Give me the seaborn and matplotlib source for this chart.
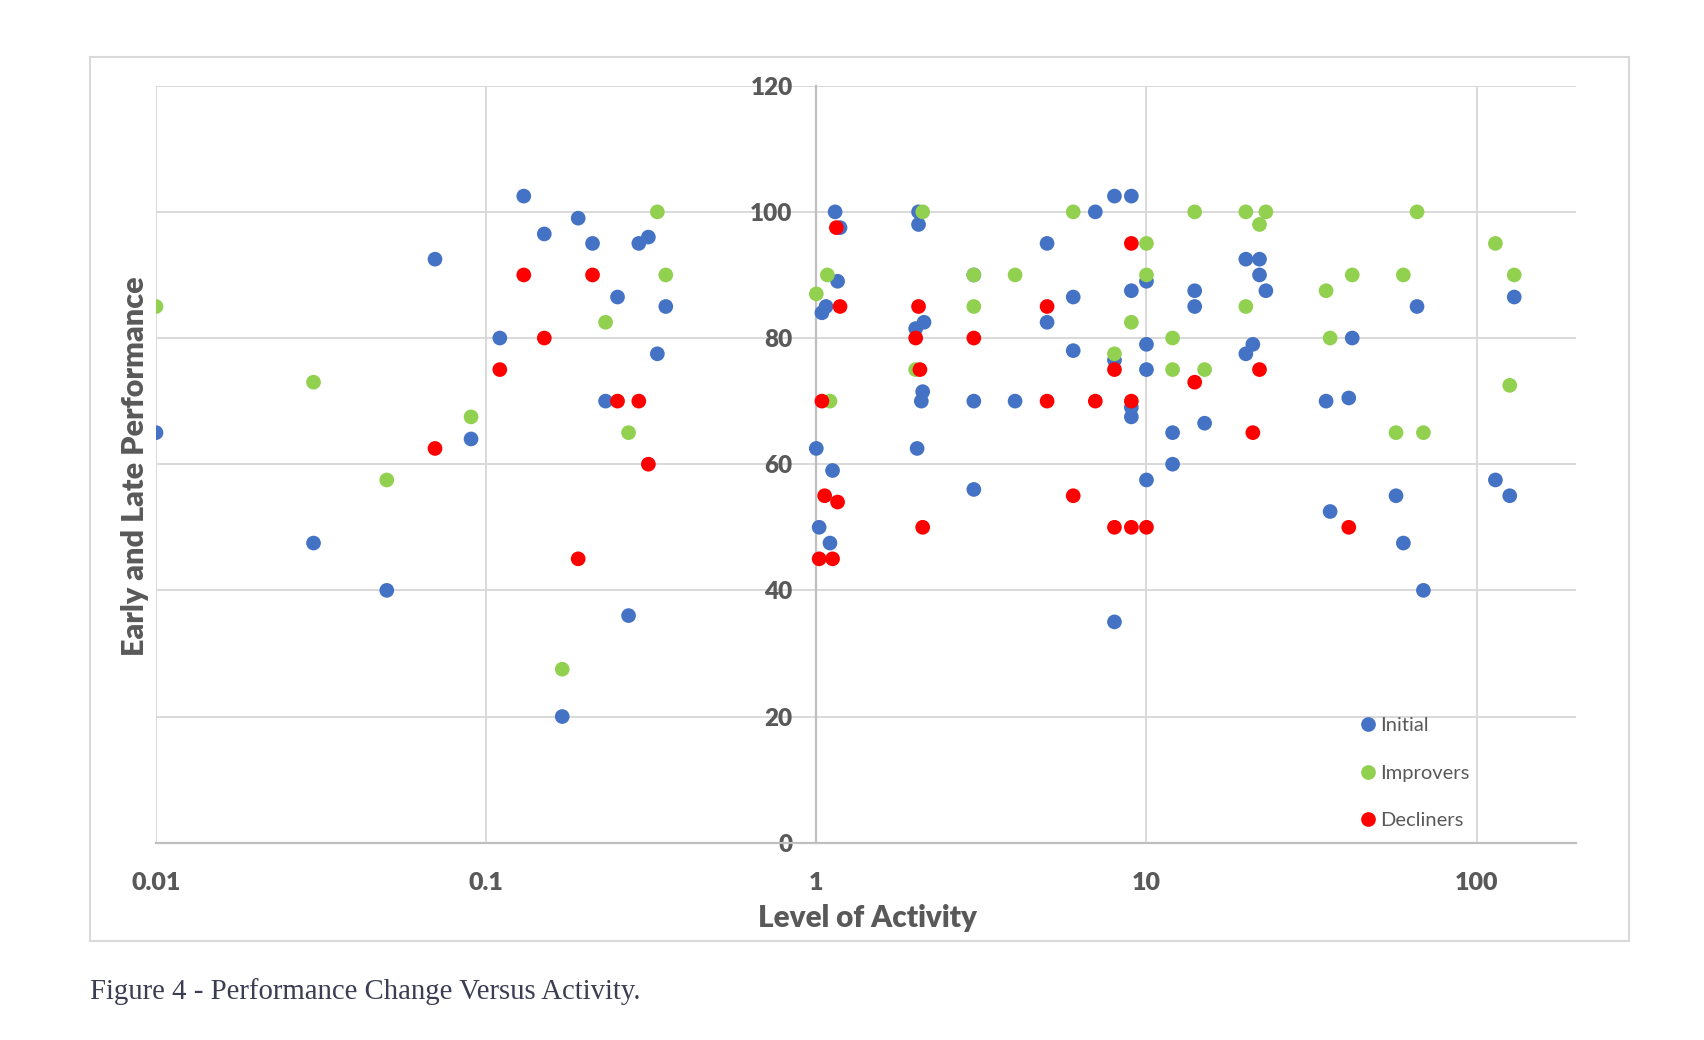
import numpy as np
import pandas as pd
import matplotlib
matplotlib.use("Agg")
import matplotlib.pyplot as plt
from matplotlib.patches import Rectangle
from matplotlib.ticker import FixedLocator, NullLocator, FixedFormatter
import seaborn as sns

sns.set_theme(style="white")
plt.rcParams["font.family"] = ["Lato", "DejaVu Sans"]

# --- data ---
initial_x = [0.01, 0.03, 0.05, 0.07, 0.09, 0.11, 0.13, 0.15, 0.17, 0.19, 0.21, 0.23,
             0.25, 0.27, 0.29, 0.31, 0.33, 0.35,
             1.0, 1.02, 1.04, 1.07, 1.1, 1.12, 1.14, 1.16, 1.18,
             2.0, 2.02, 2.04, 2.04, 2.08, 2.1, 2.12,
             3.0, 3.0, 3.0, 4.0, 5.0, 5.0, 6.0, 6.0, 7.0,
             8.0, 8.0, 8.0, 9.0, 9.0, 9.0, 9.0,
             10, 10, 10, 10, 12, 12, 14, 14, 15,
             20, 20, 21, 22, 22, 23,
             35, 36, 41, 42, 57, 60, 66, 69, 114, 126, 130]
initial_y = [65, 47.5, 40, 92.5, 64, 80, 102.5, 96.5, 20, 99, 95, 70,
             86.5, 36, 95, 96, 77.5, 85,
             62.5, 50, 84, 85, 47.5, 59, 100, 89, 97.5,
             81.5, 62.5, 100, 98, 70, 71.5, 82.5,
             90, 70, 56, 70, 95, 82.5, 86.5, 78, 100,
             102.5, 76.5, 35, 102.5, 87.5, 69, 67.5,
             89, 79, 75, 57.5, 65, 60, 87.5, 85, 66.5,
             92.5, 77.5, 79, 92.5, 90, 87.5,
             70, 52.5, 70.5, 80, 55, 47.5, 85, 40, 57.5, 55, 86.5]

improvers_x = [0.01, 0.03, 0.05, 0.09, 0.17, 0.23, 0.27, 0.33, 0.35,
               1.0, 1.08, 1.1, 2.0, 2.1, 3.0, 3.0, 4.0, 6.0, 8.0, 9.0,
               10, 10, 12, 12, 14, 15, 20, 20, 22, 23,
               35, 36, 42, 57, 60, 66, 69, 114, 126, 130]
improvers_y = [85, 73, 57.5, 67.5, 27.5, 82.5, 65, 100, 90,
               87, 90, 70, 75, 100, 90, 85, 90, 100, 77.5, 82.5,
               95, 90, 80, 75, 100, 75, 100, 85, 98, 100,
               87.5, 80, 90, 65, 90, 100, 65, 95, 72.5, 90]

decliners_x = [0.07, 0.11, 0.13, 0.15, 0.19, 0.21, 0.25, 0.29, 0.31,
               1.02, 1.04, 1.06, 1.12, 1.15, 1.16, 1.18,
               2.0, 2.04, 2.06, 2.1, 3.0, 5.0, 5.0, 6.0, 7.0,
               8.0, 8.0, 9.0, 9.0, 9.0, 10, 14, 21, 22, 41]
decliners_y = [62.5, 75, 90, 80, 45, 90, 70, 70, 60,
               45, 70, 55, 45, 97.5, 54, 85,
               80, 85, 75, 50, 80, 85, 70, 55, 70,
               75, 50, 95, 70, 50, 50, 73, 65, 75, 50]

groups = ["Initial", "Improvers", "Decliners"]
colors = ["#4472C4", "#92D050", "#FF0000"]
x_ticks = [0.01, 0.1, 1, 10, 100]
x_tick_labels = ["0.01", "0.1", "1", "10", "100"]
y_ticks = [0, 20, 40, 60, 80, 100, 120]

df = pd.concat([
    pd.DataFrame({"activity": initial_x, "performance": initial_y, "group": "Initial"}),
    pd.DataFrame({"activity": improvers_x, "performance": improvers_y, "group": "Improvers"}),
    pd.DataFrame({"activity": decliners_x, "performance": decliners_y, "group": "Decliners"}),
], ignore_index=True)

W, H = 1704, 1040
fig = plt.figure(figsize=(W / 100, H / 100), dpi=100)
fig.patch.set_facecolor("white")

# chart frame
fig.patches.append(Rectangle((90 / W, 1 - 941 / H), (1629 - 90) / W, (941 - 57) / H,
                             transform=fig.transFigure, fill=False,
                             edgecolor="#d9d9d9", lw=1.5))

ax_l, ax_r, ax_t, ax_b = 156, 1576, 85.7, 842.7
ax = fig.add_axes([ax_l / W, 1 - ax_b / H, (ax_r - ax_l) / W, (ax_b - ax_t) / H])

sns.scatterplot(data=df, x="activity", y="performance", hue="group",
                hue_order=groups, palette=colors, s=112, linewidth=0,
                ax=ax, zorder=3)

ax.set_xscale("log")
ax.set_xlim(0.01, 200)
ax.set_ylim(0, 120)
ax.xaxis.set_major_locator(FixedLocator(x_ticks))
ax.xaxis.set_major_formatter(FixedFormatter(x_tick_labels))
ax.xaxis.set_minor_locator(NullLocator())
ax.set_yticks(y_ticks)

ax.grid(True, which="major", color="#d9d9d9", lw=1.4)
ax.set_axisbelow(True)

for side in ["top", "right"]:
    ax.spines[side].set_visible(False)
ax.spines["left"].set_position(("data", 1))
ax.spines["left"].set_color("#bfbfbf")
ax.spines["left"].set_linewidth(1.6)
ax.spines["bottom"].set_color("#bfbfbf")
ax.spines["bottom"].set_linewidth(1.6)

tick_color = "#595959"
ax.tick_params(axis="y", length=0, pad=17, labelsize=17.5, labelcolor=tick_color)
ax.tick_params(axis="x", length=0, pad=21, labelsize=18, labelcolor=tick_color)
for lbl in ax.get_xticklabels() + ax.get_yticklabels():
    lbl.set_fontweight("heavy")

ax.set_xlabel("Level of Activity", fontsize=21.3, fontweight="heavy", color=tick_color)
ax.set_ylabel("Early and Late Performance", fontsize=22, fontweight="heavy", color=tick_color)
ax.xaxis.set_label_coords((867 - ax_l) / (ax_r - ax_l), (ax_b - 918) / (ax_b - ax_t))
ax.xaxis.label.set_va("center")
ax.yaxis.set_label_coords((135 - ax_l) / (ax_r - ax_l), (ax_b - 466) / (ax_b - ax_t))
ax.yaxis.label.set_va("center")

handles, labels = ax.get_legend_handles_labels()
leg = ax.legend(handles, labels, loc="center left",
                bbox_to_anchor=((1361 - ax_l) / (ax_r - ax_l), (ax_b - 773) / (ax_b - ax_t)),
                frameon=False, fontsize=14.5, borderpad=0, borderaxespad=0,
                handlelength=0.7, handletextpad=0.27, labelspacing=1.5)
for t in leg.get_texts():
    t.set_color(tick_color)

fig.text(90 / W, 1 - 992 / H, "Figure 4 - Performance Change Versus Activity.",
         family="Liberation Serif", fontsize=20.7, color="#3b3d52", va="center", ha="left")

fig.savefig("out.png", dpi=100)
